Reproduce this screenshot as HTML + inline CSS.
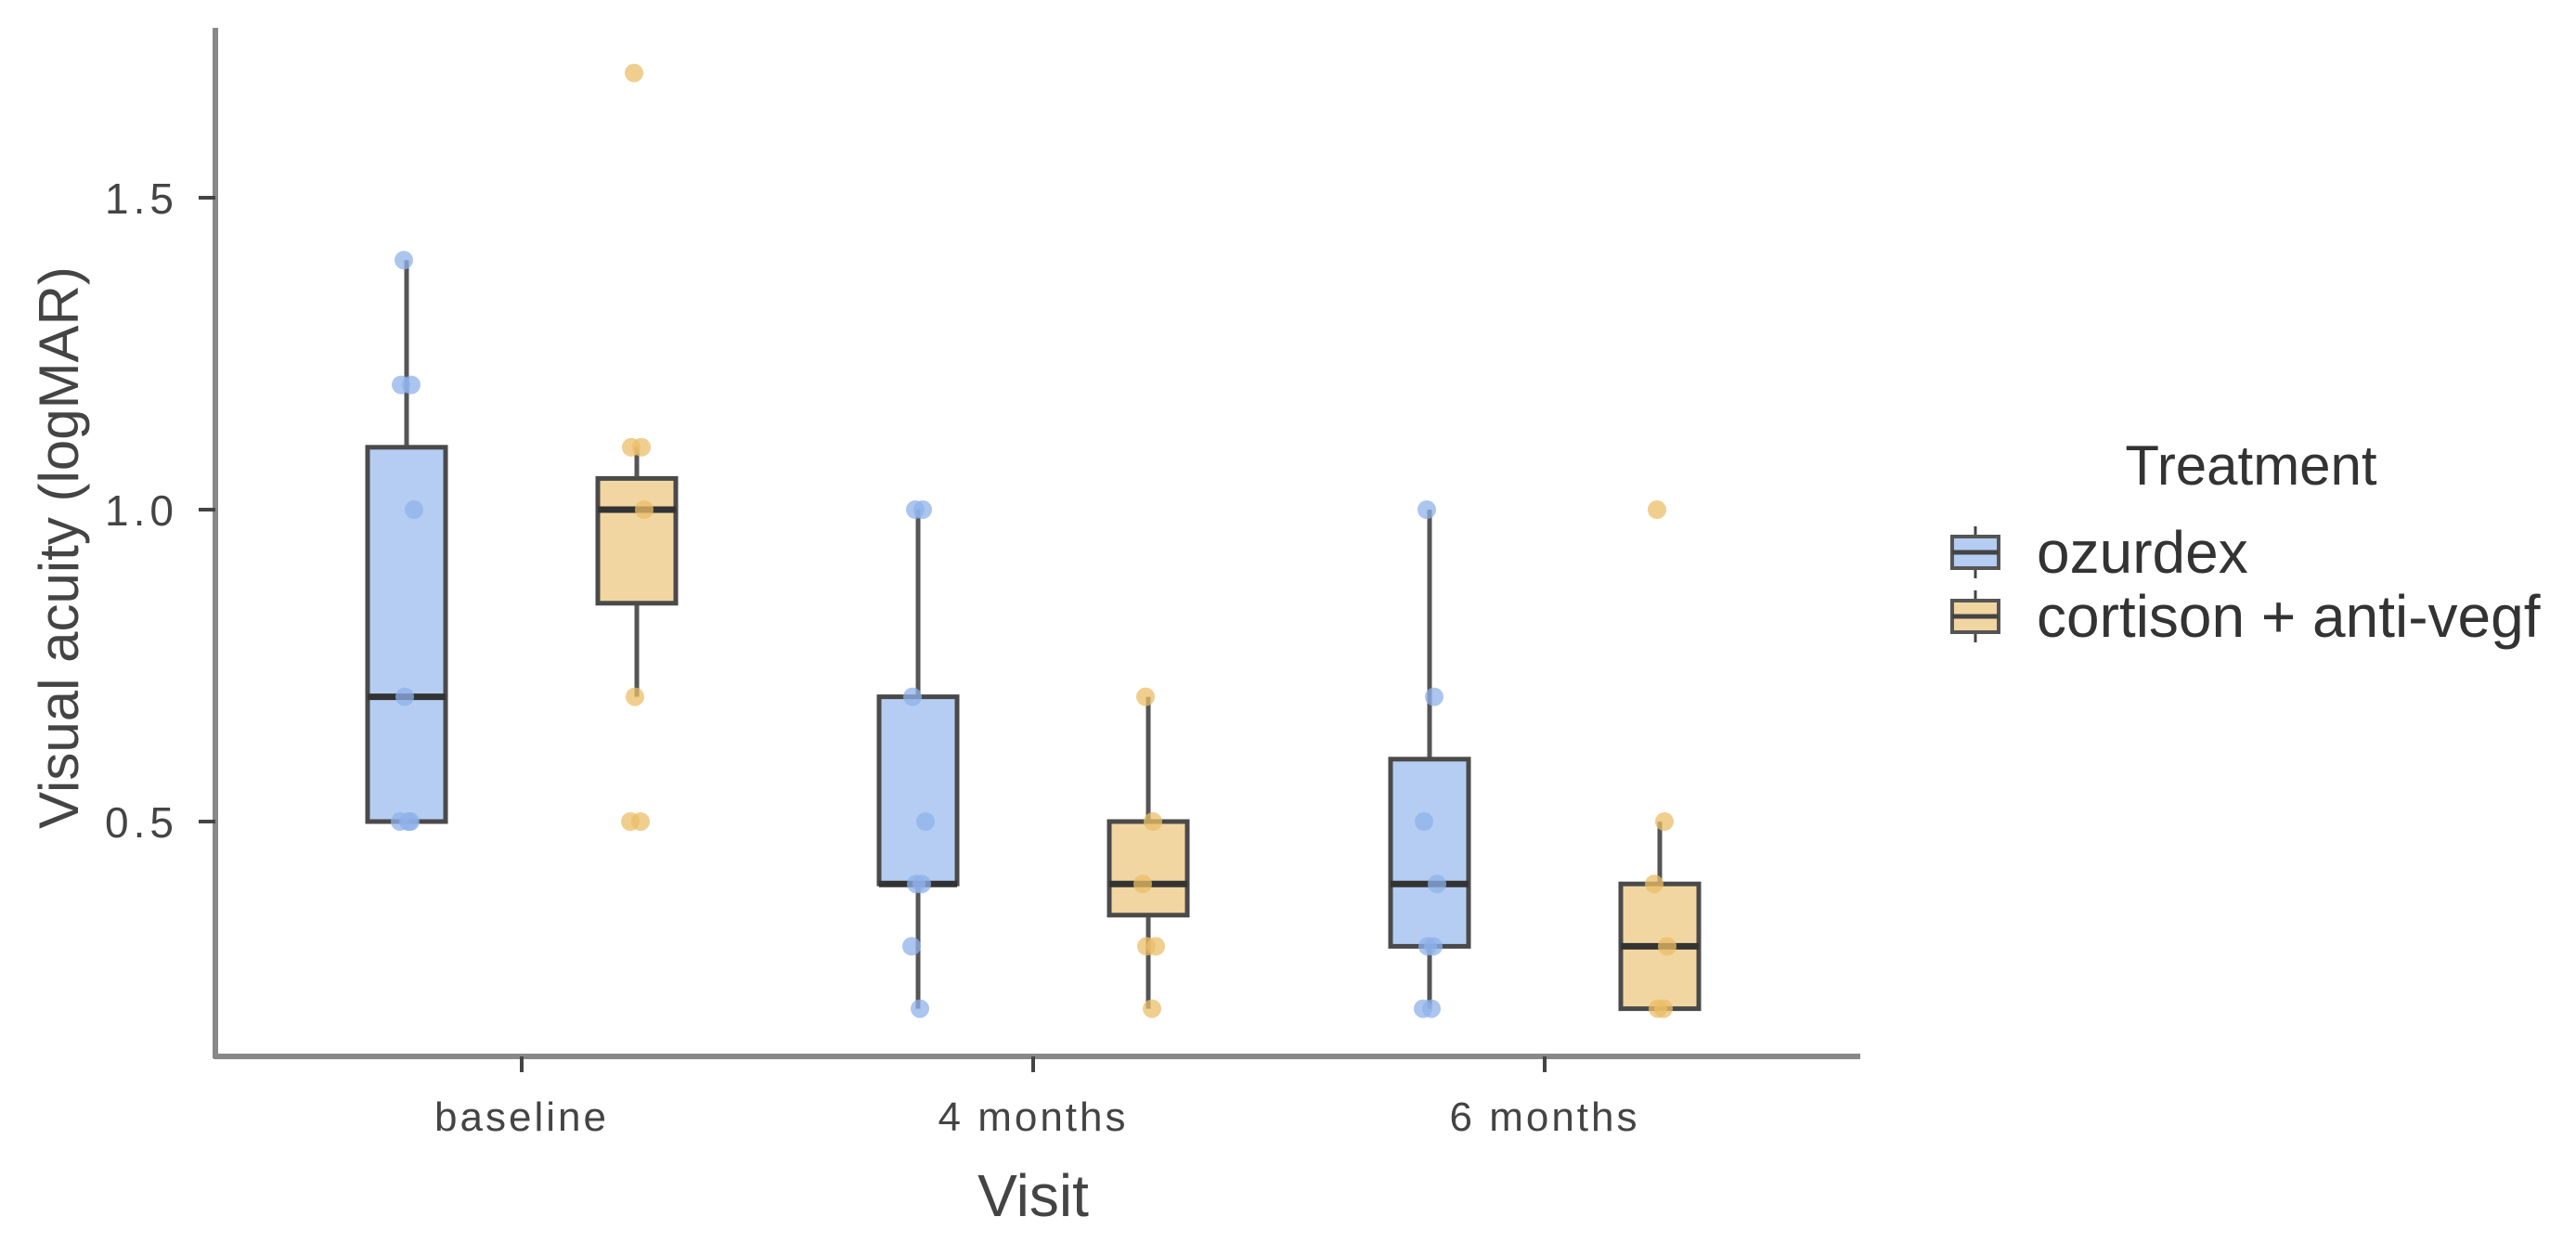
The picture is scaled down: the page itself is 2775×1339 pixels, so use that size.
<!DOCTYPE html>
<html><head><meta charset="utf-8"><style>
html,body{margin:0;padding:0;background:#fff;}
svg{display:block;font-family:"Liberation Sans",sans-serif;}
</style></head><body>
<svg id="chart" width="2775" height="1339" viewBox="0 0 2775 1339" xmlns="http://www.w3.org/2000/svg">
<rect width="2775" height="1339" fill="#fff"/>
<g id="marks"></g>
<g id="axes"></g>
<text x="0" y="0" transform="translate(84,590) rotate(-90)" text-anchor="middle" font-size="60" fill="#444">Visual acuity (logMAR)</text>
<text x="1113" y="1310" text-anchor="middle" font-size="64" fill="#444">Visit</text>
<g>
<text x="2425" y="522" text-anchor="middle" font-size="60" fill="#333">Treatment</text>
<g>
<line x1="2128" y1="567" x2="2128" y2="623" stroke="#444" stroke-width="3"/>
<rect x="2103" y="578" width="50" height="34" fill="#b5cdf2" stroke="#555" stroke-width="4"/>
<line x1="2103" y1="595" x2="2153" y2="595" stroke="#444" stroke-width="5"/>
<text x="2194" y="617" font-size="64" fill="#333">ozurdex</text>
</g>
<g>
<line x1="2128" y1="636" x2="2128" y2="692" stroke="#444" stroke-width="3"/>
<rect x="2103" y="647" width="50" height="34" fill="#f1d6a1" stroke="#555" stroke-width="4"/>
<line x1="2103" y1="664" x2="2153" y2="664" stroke="#444" stroke-width="5"/>
<text x="2194" y="686" font-size="64" fill="#333">cortison + anti-vegf</text>
</g>
</g>
</svg>
<script>
const categories = ["baseline", "4 months", "6 months"];
const groups = ["ozurdex", "cortison + anti-vegf"];
const yTicks = [0.5, 1.0, 1.5];
// [q1, median, q3, whiskerLow, whiskerHigh] per category
const ozurdexBox = [[0.5,0.7,1.1,0.5,1.4],[0.4,0.4,0.7,0.2,1.0],[0.3,0.4,0.6,0.2,1.0]];
const cortisonBox = [[0.85,1.0,1.05,0.7,1.1],[0.35,0.4,0.5,0.2,0.7],[0.2,0.3,0.4,0.2,0.5]];
const ozurdexPoints = [[1.4,1.2,1.2,1.0,0.7,0.5,0.5,0.5],[1.0,1.0,0.7,0.5,0.4,0.4,0.3,0.2],[1.0,0.7,0.5,0.4,0.3,0.3,0.2,0.2]];
const cortisonPoints = [[1.7,1.1,1.1,1.0,0.7,0.5,0.5],[0.7,0.5,0.4,0.3,0.3,0.2],[1.0,0.5,0.4,0.3,0.2,0.2]];

const NS = "http://www.w3.org/2000/svg";
const xPos = i => 562 + i * 551;
const yPos = v => 549 - (v - 1.0) * 672;
const dodge = [-124, 124];
const halfW = 42;
const fills = ["#b5cdf2", "#f1d6a1"];
const ptCol = ["#8fb2ea", "#ebbd68"];
const marks = document.getElementById("marks");
const axes = document.getElementById("axes");
function mk(tag, attrs, parent) {
  const e = document.createElementNS(NS, tag);
  for (const k in attrs) e.setAttribute(k, attrs[k]);
  parent.appendChild(e);
  return e;
}
[ozurdexBox, cortisonBox].forEach((boxes, g) => {
  boxes.forEach((b, i) => {
    const cx = xPos(i) + dodge[g];
    const grp = mk("g", {}, marks);
    
    
    mk("line", {x1: cx, x2: cx, y1: yPos(b[4]), y2: yPos(b[2]), stroke: "#555", "stroke-width": 5}, grp);
    mk("line", {x1: cx, x2: cx, y1: yPos(b[0]), y2: yPos(b[3]), stroke: "#555", "stroke-width": 5}, grp);
    mk("rect", {x: cx - halfW, y: yPos(b[2]), width: halfW * 2, height: yPos(b[0]) - yPos(b[2]), fill: fills[g], stroke: "#4a4a4a", "stroke-width": 5}, grp);
    mk("line", {x1: cx - halfW, x2: cx + halfW, y1: yPos(b[1]), y2: yPos(b[1]), stroke: "#333", "stroke-width": 7}, grp);
  });
});
const jit = [-3, 5, -6, 8, -2, 4, -7, 2];
[ozurdexPoints, cortisonPoints].forEach((pts, g) => {
  pts.forEach((arr, i) => {
    arr.forEach((v, k) => {
      const c = mk("circle", {cx: xPos(i) + dodge[g] + jit[k % jit.length], cy: yPos(v), r: 10, fill: ptCol[g], "fill-opacity": 0.75}, marks);
      
      
    });
  });
});
const ya = mk("line", {x1: 232, x2: 232, y1: 30, y2: 1140, stroke: "#888", "stroke-width": 6}, axes);


const xa = mk("line", {x1: 230, x2: 2004, y1: 1138, y2: 1138, stroke: "#888", "stroke-width": 6}, axes);


yTicks.forEach(t => {
  const y = yPos(t);
  mk("line", {x1: 214, x2: 232, y1: y, y2: y, stroke: "#444", "stroke-width": 4}, axes);
  const tx = mk("text", {x: 192, y: y + 17, "text-anchor": "end", "font-size": 46, "letter-spacing": 5, fill: "#444"}, axes);
  
  
  tx.textContent = t.toFixed(1);
});
categories.forEach((c, i) => {
  const x = xPos(i);
  mk("line", {x1: x, x2: x, y1: 1138, y2: 1155, stroke: "#444", "stroke-width": 4}, axes);
  const tx = mk("text", {x: x, y: 1218, "text-anchor": "middle", "font-size": 44, "letter-spacing": 3, fill: "#444"}, axes);
  
  
  tx.textContent = c;
});
</script>
</body></html>
